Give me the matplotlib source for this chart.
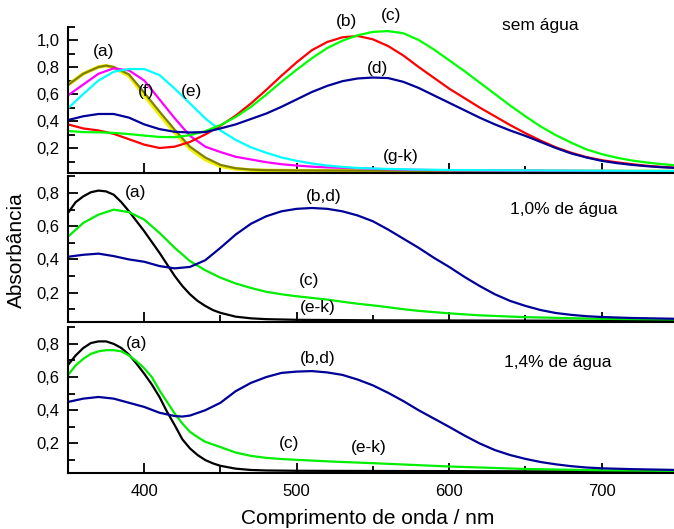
import matplotlib
matplotlib.use('Agg')
import matplotlib.pyplot as plt
from matplotlib.ticker import MultipleLocator, FuncFormatter

plt.rcParams['font.family'] = ['Liberation Sans', 'DejaVu Sans']

# ---- sem agua (top panel) ----
wl_top_red = [350, 360, 370, 380, 390, 400, 410, 420, 430, 440, 450, 460, 470, 480, 490, 500, 510, 520, 530,
              540, 550, 560, 570, 580, 590, 600, 610, 620, 630, 640, 650, 660, 670, 680, 690, 700, 710, 720, 730, 740, 750]
top_red = [0.375, 0.345, 0.33, 0.305, 0.265, 0.225, 0.20, 0.21, 0.245, 0.30, 0.365, 0.44, 0.53, 0.63, 0.735, 0.835,
           0.925, 0.985, 1.02, 1.03, 1.005, 0.955, 0.885, 0.80, 0.72, 0.64, 0.57, 0.50, 0.435, 0.37, 0.31, 0.255,
           0.205, 0.165, 0.133, 0.11, 0.094, 0.08, 0.068, 0.06, 0.053]
wl_top_green = wl_top_red
top_green = [0.326, 0.318, 0.316, 0.312, 0.303, 0.292, 0.282, 0.28, 0.295, 0.325, 0.37, 0.43, 0.505, 0.595, 0.69,
             0.78, 0.865, 0.94, 0.995, 1.035, 1.06, 1.066, 1.05, 1.0, 0.93, 0.85, 0.77, 0.685, 0.60, 0.515, 0.435,
             0.36, 0.295, 0.24, 0.19, 0.155, 0.128, 0.107, 0.092, 0.08, 0.07]
wl_top_blue = wl_top_red
top_blue = [0.407, 0.435, 0.452, 0.452, 0.425, 0.375, 0.34, 0.32, 0.315, 0.318, 0.345, 0.375, 0.415, 0.455, 0.505,
            0.56, 0.615, 0.66, 0.695, 0.715, 0.722, 0.718, 0.69, 0.645, 0.59, 0.535, 0.48, 0.425, 0.375, 0.33, 0.29,
            0.245, 0.20, 0.16, 0.13, 0.105, 0.088, 0.075, 0.065, 0.057, 0.052]
wl_top_magenta = [350, 360, 370, 380, 390, 400, 410, 420, 430, 440, 450, 460, 470, 480, 490, 500, 510, 520,
                  540, 560, 580, 600, 650, 700, 750]
top_magenta = [0.59, 0.67, 0.75, 0.79, 0.775, 0.70, 0.56, 0.42, 0.29, 0.21, 0.17, 0.135, 0.115, 0.095, 0.08,
               0.07, 0.062, 0.056, 0.05, 0.042, 0.038, 0.035, 0.032, 0.03, 0.028]
wl_top_cyan = [350, 360, 370, 380, 390, 400, 410, 420, 430, 440, 450, 460, 470, 480, 490, 500, 510, 520, 530,
               540, 560, 580, 600, 650, 700, 750]
top_cyan = [0.494, 0.60, 0.70, 0.765, 0.785, 0.785, 0.74, 0.64, 0.53, 0.42, 0.33, 0.26, 0.205, 0.165, 0.13,
            0.105, 0.085, 0.07, 0.06, 0.052, 0.045, 0.04, 0.037, 0.034, 0.032, 0.03]
wl_top_olive = [350, 360, 370, 375, 380, 390, 400, 410, 420, 430, 440, 450, 460, 470, 480, 500, 550, 600, 650, 700, 750]
top_olive = [0.667, 0.75, 0.80, 0.81, 0.80, 0.745, 0.61, 0.47, 0.335, 0.21, 0.13, 0.075, 0.05, 0.04, 0.036,
             0.034, 0.032, 0.03, 0.03, 0.028, 0.027]
top_yellow = [0.667, 0.75, 0.80, 0.81, 0.795, 0.735, 0.59, 0.45, 0.315, 0.195, 0.115, 0.065, 0.045, 0.037, 0.034,
              0.032, 0.03, 0.029, 0.028, 0.027, 0.026]

# ---- 1,0% de agua (middle panel) ----
wl_mid_black = [350, 355, 360, 365, 370, 375, 380, 385, 390, 395, 400, 405, 410, 415, 420, 425, 430, 435, 440,
                445, 450, 460, 470, 480, 500, 550, 600, 650, 700, 750]
mid_black = [0.68, 0.745, 0.78, 0.805, 0.815, 0.81, 0.79, 0.745, 0.69, 0.63, 0.57, 0.505, 0.44, 0.37, 0.30,
             0.24, 0.19, 0.15, 0.12, 0.095, 0.078, 0.055, 0.045, 0.04, 0.036, 0.033, 0.032, 0.031, 0.03, 0.03]
wl_mid_green = [350, 360, 370, 380, 390, 400, 410, 420, 430, 440, 450, 460, 470, 480, 490, 500, 510, 520, 530,
                540, 550, 560, 570, 580, 600, 620, 650, 700, 750]
mid_green = [0.537, 0.62, 0.67, 0.70, 0.685, 0.64, 0.56, 0.47, 0.39, 0.335, 0.29, 0.255, 0.228, 0.205, 0.19,
             0.178, 0.168, 0.158, 0.145, 0.133, 0.123, 0.112, 0.10, 0.09, 0.075, 0.063, 0.052, 0.042, 0.038]
wl_mid_blue = [350, 360, 370, 380, 390, 400, 410, 420, 430, 440, 450, 460, 470, 480, 490, 500, 510, 520, 530,
               540, 550, 560, 570, 580, 590, 600, 610, 620, 630, 640, 650, 660, 670, 680, 690, 700, 720, 750]
mid_blue = [0.416, 0.428, 0.435, 0.42, 0.40, 0.386, 0.36, 0.346, 0.355, 0.395, 0.47, 0.55, 0.615, 0.66, 0.69,
            0.705, 0.71, 0.705, 0.69, 0.665, 0.63, 0.58, 0.525, 0.47, 0.41, 0.355, 0.295, 0.24, 0.19, 0.15, 0.12,
            0.095, 0.077, 0.066, 0.058, 0.053, 0.047, 0.042]

# ---- 1,4% de agua (bottom panel) ----
wl_bot_black = wl_mid_black
bot_black = [0.673, 0.73, 0.775, 0.805, 0.815, 0.815, 0.80, 0.775, 0.735, 0.68, 0.62, 0.555, 0.48, 0.39, 0.31,
             0.225, 0.17, 0.13, 0.10, 0.08, 0.065, 0.048, 0.04, 0.037, 0.035, 0.034, 0.033, 0.032, 0.032, 0.032]
wl_bot_green = [350, 355, 360, 365, 370, 375, 380, 385, 390, 395, 400, 405, 410, 415, 420, 425, 430, 435, 440,
                450, 460, 470, 480, 490, 500, 525, 550, 575, 600, 650, 700, 750]
bot_green = [0.612, 0.67, 0.71, 0.74, 0.755, 0.762, 0.762, 0.755, 0.73, 0.695, 0.653, 0.60, 0.52, 0.45, 0.38,
             0.32, 0.27, 0.238, 0.21, 0.178, 0.145, 0.125, 0.113, 0.106, 0.101, 0.09, 0.081, 0.071, 0.061, 0.046,
             0.038, 0.034]
wl_bot_blue = [350, 360, 370, 380, 390, 400, 410, 420, 425, 430, 440, 450, 460, 470, 480, 490, 500, 510, 520,
               530, 540, 550, 560, 570, 580, 590, 600, 610, 620, 630, 640, 650, 660, 670, 680, 690, 700, 720, 750]
bot_blue = [0.45, 0.47, 0.48, 0.47, 0.445, 0.42, 0.385, 0.365, 0.362, 0.368, 0.40, 0.445, 0.515, 0.565, 0.60,
            0.625, 0.633, 0.636, 0.628, 0.613, 0.585, 0.55, 0.505, 0.455, 0.40, 0.35, 0.30, 0.248, 0.20, 0.16,
            0.13, 0.107, 0.088, 0.074, 0.063, 0.055, 0.05, 0.045, 0.04]

RED, GREEN, NAVY = '#ff0000', '#00ee00', '#000099'

fig = plt.figure(figsize=(6.74, 5.29), dpi=100)
ax_top = fig.add_axes([0.1009, 0.6730, 0.8991, 0.2769])
ax_mid = fig.add_axes([0.1009, 0.3904, 0.8991, 0.2760])
ax_bot = fig.add_axes([0.1009, 0.1053, 0.8991, 0.2760])

lw = 1.6
ax_top.plot(wl_top_olive, top_yellow, color='#f0f000', lw=2.6)
ax_top.plot(wl_top_olive, top_olive, color='#808000', lw=1.6)
ax_top.plot(wl_top_magenta, top_magenta, color='#ff00ff', lw=lw)
ax_top.plot(wl_top_cyan, top_cyan, color='#00ffff', lw=lw)
ax_top.plot(wl_top_red, top_red, color=RED, lw=lw)
ax_top.plot(wl_top_green, top_green, color='#00ff00', lw=lw)
ax_top.plot(wl_top_blue, top_blue, color=NAVY, lw=lw)

ax_mid.plot(wl_mid_black, mid_black, color='black', lw=lw)
ax_mid.plot(wl_mid_green, mid_green, color=GREEN, lw=lw)
ax_mid.plot(wl_mid_blue, mid_blue, color=NAVY, lw=lw)

ax_bot.plot(wl_bot_black, bot_black, color='black', lw=lw)
ax_bot.plot(wl_bot_green, bot_green, color=GREEN, lw=lw)
ax_bot.plot(wl_bot_blue, bot_blue, color=NAVY, lw=lw)

comma = FuncFormatter(lambda v, p: f'{v:.1f}'.replace('.', ','))
for ax in (ax_top, ax_mid, ax_bot):
    ax.set_xlim(350, 747.5)
    ax.spines['top'].set_visible(False)
    ax.spines['right'].set_visible(False)
    for s in ('left', 'bottom'):
        ax.spines[s].set_linewidth(1.5)
    ax.xaxis.set_major_locator(MultipleLocator(100))
    ax.xaxis.set_minor_locator(MultipleLocator(50))
    ax.yaxis.set_major_locator(MultipleLocator(0.2))
    ax.yaxis.set_minor_locator(MultipleLocator(0.1))
    ax.yaxis.set_major_formatter(comma)
    ax.tick_params(which='both', direction='in', width=1.3, labelsize=12)
    ax.tick_params(which='major', length=7)
    ax.tick_params(which='minor', length=5)
    ax.tick_params(axis='y', pad=6)

ax_top.set_ylim(0.015, 1.1)
ax_mid.set_ylim(0.02, 0.9)
ax_bot.set_ylim(0.02, 0.9)
ax_top.set_yticks([0.2, 0.4, 0.6, 0.8, 1.0])
ax_mid.set_yticks([0.2, 0.4, 0.6, 0.8])
ax_bot.set_yticks([0.2, 0.4, 0.6, 0.8])
ax_top.tick_params(axis='x', labelbottom=False)
ax_mid.tick_params(axis='x', labelbottom=False)
ax_bot.tick_params(axis='x', pad=8)

fs = 12.5
ax_top.text(373, 0.915, '(a)', fontsize=fs, ha='center', va='center')
ax_top.text(533, 1.135, '(b)', fontsize=fs, ha='center', va='center')
ax_top.text(562, 1.18, '(c)', fontsize=fs, ha='center', va='center')
ax_top.text(553, 0.79, '(d)', fontsize=fs, ha='center', va='center')
ax_top.text(431, 0.615, '(e)', fontsize=fs, ha='center', va='center')
ax_top.text(401, 0.62, '(f)', fontsize=fs, ha='center', va='center')
ax_top.text(568, 0.135, '(g-k)', fontsize=fs, ha='center', va='center')
ax_top.text(660, 1.11, 'sem água', fontsize=fs, ha='center', va='center')

ax_mid.text(394, 0.803, '(a)', fontsize=fs, ha='center', va='center')
ax_mid.text(518, 0.78, '(b,d)', fontsize=fs, ha='center', va='center')
ax_mid.text(508, 0.274, '(c)', fontsize=fs, ha='center', va='center')
ax_mid.text(514, 0.113, '(e-k)', fontsize=fs, ha='center', va='center')
ax_mid.text(675, 0.70, '1,0% de água', fontsize=fs, ha='center', va='center')

ax_bot.text(395, 0.804, '(a)', fontsize=fs, ha='center', va='center')
ax_bot.text(514, 0.713, '(b,d)', fontsize=fs, ha='center', va='center')
ax_bot.text(495, 0.202, '(c)', fontsize=fs, ha='center', va='center')
ax_bot.text(547, 0.175, '(e-k)', fontsize=fs, ha='center', va='center')
ax_bot.text(671, 0.687, '1,4% de água', fontsize=fs, ha='center', va='center')

fig.text(0.024, 0.527, 'Absorbância', fontsize=15, rotation=90, ha='center', va='center')
fig.text(0.545, 0.019, 'Comprimento de onda / nm', fontsize=15, ha='center', va='center')

fig.savefig('out.png', dpi=100)
